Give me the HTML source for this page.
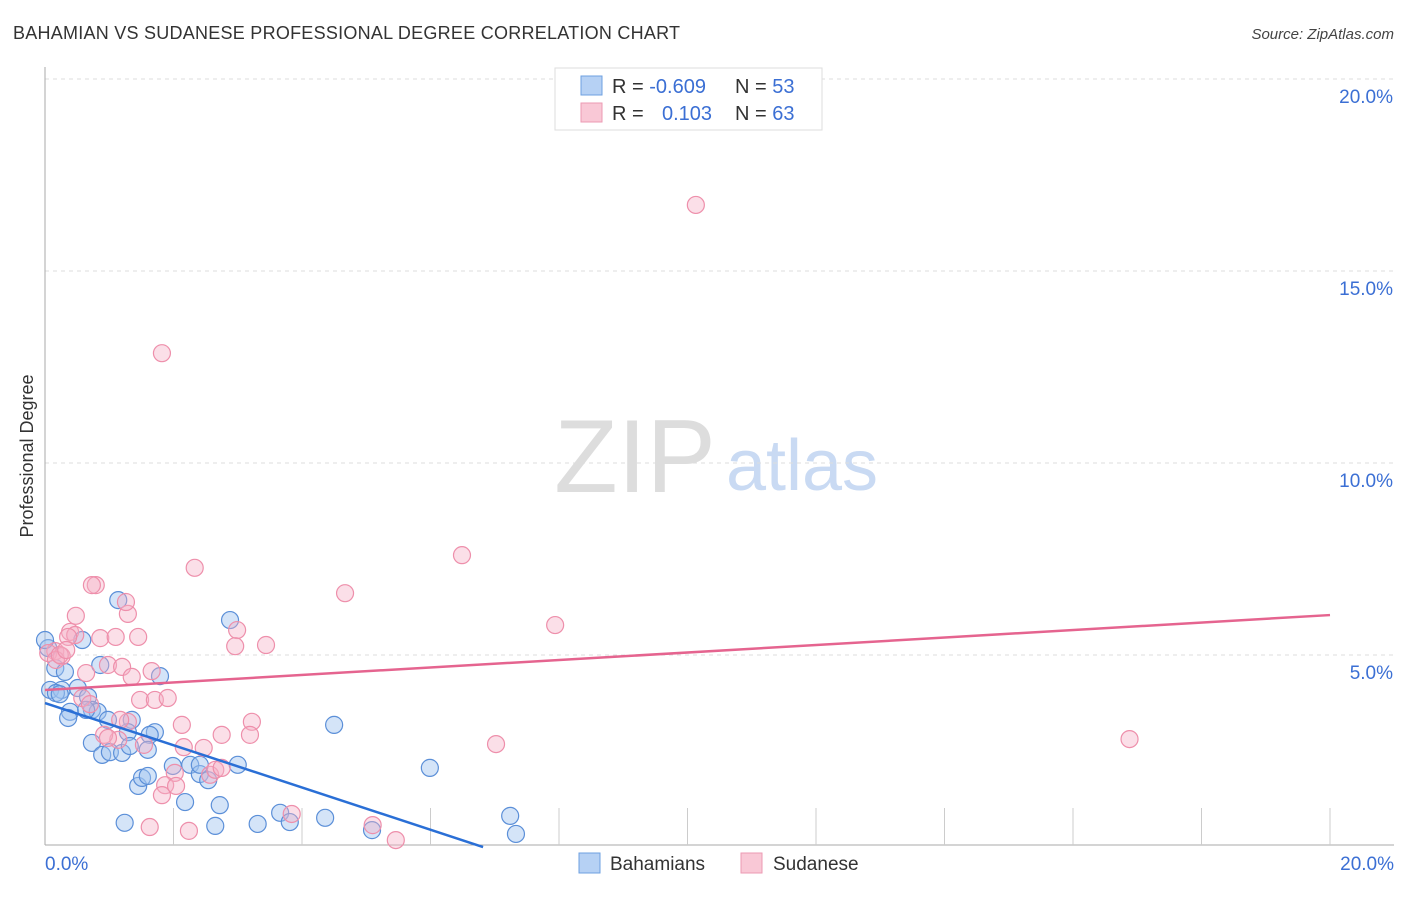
<!DOCTYPE html>
<html><head><meta charset="utf-8"><style>
body{margin:0;background:#fff;font-family:"Liberation Sans",sans-serif}
svg text{font-family:"Liberation Sans",sans-serif}
</style></head><body>
<svg id="chart" width="1406" height="892" xmlns="http://www.w3.org/2000/svg">
<text x="13" y="39" font-size="18" fill="#333" letter-spacing="0.25">BAHAMIAN VS SUDANESE PROFESSIONAL DEGREE CORRELATION CHART</text>
<text x="1394" y="39" font-size="15" fill="#444" text-anchor="end" font-style="italic">Source: ZipAtlas.com</text>
<text transform="translate(33,456) rotate(-90)" font-size="18" fill="#333" text-anchor="middle">Professional Degree</text>
<g><text x="635" y="492" font-size="104" fill="#ddd" text-anchor="middle" font-family="Liberation Serif,serif">ZIP</text><text x="802" y="490" font-size="72" fill="#c9daf3" text-anchor="middle">atlas</text></g>
<g id="grid"></g><g id="marks"></g>
<g>
<rect x="555" y="68" width="267" height="62" fill="#fff" stroke="#ddd"/>
<rect x="581" y="76" width="21" height="19" fill="#b6d1f4" stroke="#6ea0e0"/>
<rect x="581" y="103" width="21" height="19" fill="#f9c8d6" stroke="#ec9ab3"/>
<text x="612" y="93" font-size="20" fill="#333">R = <tspan fill="#3b6fd4">-0.609</tspan><tspan x="735">N = </tspan><tspan fill="#3b6fd4">53</tspan></text>
<text x="612" y="120" font-size="20" fill="#333">R = <tspan x="662" fill="#3b6fd4">0.103</tspan><tspan x="735">N = </tspan><tspan fill="#3b6fd4">63</tspan></text>
</g>
<g>
<rect x="579" y="853" width="21" height="20" fill="#b6d1f4" stroke="#6ea0e0"/>
<text x="610" y="870" font-size="19" fill="#333">Bahamians</text>
<rect x="741" y="853" width="21" height="20" fill="#f9c8d6" stroke="#ec9ab3"/>
<text x="773" y="870" font-size="19" fill="#333">Sudanese</text>
</g>
</svg>
<script>
const yTicks=[5,10,15,20];
const xTickVals=[0,2,4,6,8,10,12,14,16,18,20];
const bahX=[0.05,0.16,0.08,0.26,0.17,0.31,0.58,0.86,1.14,2.88,1.79,0.51,0.67,0.39,0.36,0.73,0.82,0.64,1.35,1.71,1.63,1.29,0.73,0.89,1.01,1.20,1.32,1.45,1.51,1.60,2.18,1.99,2.26,2.41,2.54,2.72,3.00,1.24,2.65,3.31,3.66,3.81,4.36,5.09,4.50,5.99,7.24,7.33,0.23,0.98,1.60,2.41,0.0];
const bahY=[5.18,4.66,4.09,4.09,4.01,4.56,5.39,4.74,6.43,5.91,4.45,4.14,3.91,3.52,3.36,3.57,3.52,3.57,3.31,2.99,2.92,2.99,2.71,2.40,2.47,2.45,2.63,1.59,1.80,1.85,1.17,2.11,2.14,1.90,1.74,1.09,2.14,0.63,0.55,0.60,0.89,0.65,0.76,0.44,3.18,2.06,0.81,0.34,3.98,3.31,2.53,2.14,5.39];
const sudX=[10.13,1.82,6.49,2.33,0.79,0.73,4.67,0.48,1.29,1.26,2.99,2.96,3.44,7.94,0.39,0.47,0.36,0.86,1.10,1.45,0.16,0.05,0.26,0.98,1.20,1.66,0.64,1.35,1.48,1.71,1.91,0.58,1.29,2.13,3.22,1.14,0.92,0.98,1.54,2.16,2.47,2.75,3.19,7.02,16.88,2.02,1.87,1.82,2.57,2.65,3.84,1.63,2.24,5.10,5.46,0.17,0.70,1.17,2.04,0.23,0.33,2.75];
const sudY=[16.72,12.86,7.60,7.27,6.82,6.82,6.61,6.02,6.07,6.38,5.65,5.23,5.26,5.78,5.60,5.52,5.47,5.44,5.47,5.47,5.10,5.05,4.97,4.74,4.69,4.58,4.53,4.43,3.83,3.83,3.88,3.88,3.26,3.18,3.26,2.79,2.92,2.84,2.66,2.60,2.58,2.92,2.92,2.68,2.81,1.93,1.61,1.35,1.88,2.01,0.86,0.52,0.42,0.57,0.18,4.87,3.72,3.31,1.59,5.00,5.13,2.06];
const bahTrend=[3.75,-0.55];
const sudTrend=[4.09,0.0975];
const X=v=>45+v*64.25, Y=v=>847-v*38.4;
const NS='http://www.w3.org/2000/svg';
const grid=document.getElementById('grid'),marks=document.getElementById('marks');
function mk(t,a,p){const e=document.createElementNS(NS,t);for(const k in a)e.setAttribute(k,a[k]);p.appendChild(e);return e;}
yTicks.forEach(v=>{
 const l=mk('line',{x1:45,x2:1394,y1:Y(v),y2:Y(v),stroke:'#ddd','stroke-dasharray':'4,4'},grid);
 
 
 const t=mk('text',{x:1393,y:Y(v)+24,'font-size':19,fill:'#3b6fd4','text-anchor':'end'},grid);
 t.textContent=v.toFixed(1)+'%';
 
 
});
const ax=mk('line',{x1:45,x2:45,y1:67,y2:845,stroke:'#aaa'},grid);


const bx=mk('line',{x1:45,x2:1394,y1:845,y2:845,stroke:'#aaa'},grid);


xTickVals.forEach(v=>{if(v>0){const t=mk('line',{x1:X(v),x2:X(v),y1:808,y2:845,stroke:'#ccc'},grid);
 
 }});
[[0,'start',45],[20,'end',1394]].forEach(([v,a,x])=>{const t=mk('text',{x:x,y:870,'font-size':19,fill:'#3b6fd4','text-anchor':a},grid);t.textContent=v.toFixed(1)+'%';
 
 });
function pts(xs,ys,fill,stroke,name){xs.forEach((x,i)=>{const c=mk('circle',{cx:X(x),cy:Y(ys[i]),r:8.5,fill:fill,stroke:stroke,'stroke-width':1.2},marks);
 
 });}
pts(bahX,bahY,'rgba(160,195,240,0.45)','#5b8fd8','bahamian-point');
pts(sudX,sudY,'rgba(246,175,198,0.4)','#ee8fab','sudanese-point');
const x0=-bahTrend[0]/bahTrend[1];
const bl=mk('line',{x1:X(0),y1:Y(bahTrend[0]),x2:X(x0),y2:Y(0),stroke:'#2a6fd6','stroke-width':2.5},marks);


const sl=mk('line',{x1:X(0),y1:Y(sudTrend[0]),x2:X(20),y2:Y(sudTrend[0]+20*sudTrend[1]),stroke:'#e5648f','stroke-width':2.5},marks);


</script>
</body></html>
